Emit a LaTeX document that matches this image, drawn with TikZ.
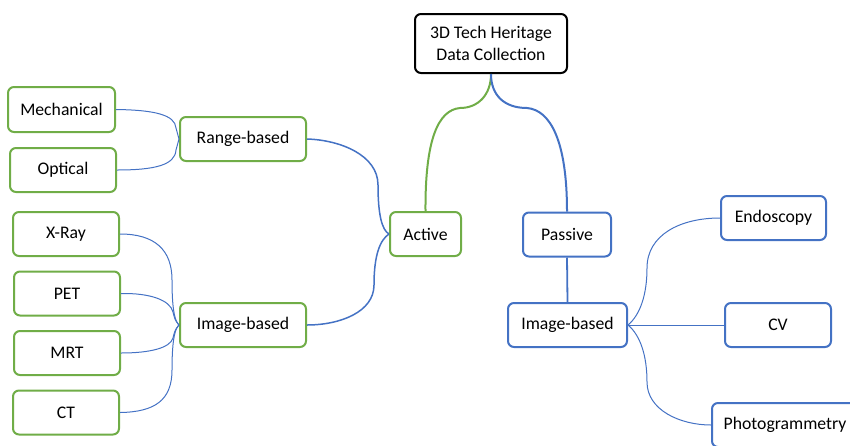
\documentclass[tikz,border=0pt]{standalone}
\usepackage{fontspec}
\setmainfont{Carlito}
\definecolor{mmgreen}{HTML}{70AD47}
\definecolor{mmblue}{HTML}{4472C4}
\begin{document}
\begin{tikzpicture}[x=1pt,y=-1pt,
  box/.style={draw, rounded corners=6pt, line width=2pt, fill=white,
    minimum height=44pt, minimum width=106pt, inner sep=0pt, align=center,
    font=\fontsize{17.7}{21.5}\selectfont},
  gbox/.style={box, draw=mmgreen},
  bbox/.style={box, draw=mmblue},
  rootlink/.style={line width=2pt},
  midlink/.style={draw=mmblue, line width=1.5pt},
  leaflink/.style={draw=mmblue, line width=1pt}]
\useasboundingbox (0,0) rectangle (850,445);
\clip (0,0) rectangle (850,445);
% nodes
\node[box, draw=black, minimum width=152pt, minimum height=59pt] (root) at (491,43.5) {3D Tech Heritage\\Data Collection};
\node[gbox, minimum width=71pt] (active) at (425.5,234) {Active};
\node[bbox, minimum width=88pt] (passive) at (567,234.5) {Passive};
\node[bbox, minimum width=119pt] (rimg) at (567.5,325) {Image-based};
\node[bbox, minimum width=105pt] (endo) at (773.5,218) {Endoscopy};
\node[bbox] (cv) at (778,325) {CV};
\node[bbox, minimum width=146pt] (photo) at (785,425) {Photogrammetry};
\node[gbox, minimum width=126pt] (range) at (243,139) {Range-based};
\node[gbox, minimum width=107pt, minimum height=45pt] (mech) at (61.5,109.5) {Mechanical};
\node[gbox] (opt) at (63,170) {Optical};
\node[gbox, minimum width=126pt] (limg) at (243,325) {Image-based};
\node[gbox] (xray) at (66,234) {X-Ray};
\node[gbox] (pet) at (67,293.5) {PET};
\node[gbox] (mrt) at (67,353) {MRT};
\node[gbox] (ct) at (66,412.5) {CT};
% connectors
\draw[rootlink, mmgreen] (root.south) .. controls (491,95) and (478,108) .. (460,108)
  .. controls (438,110) and (425,140) .. (active.north);
\draw[rootlink, mmblue] (root.south) .. controls (491,95) and (504,108) .. (527,108)
  .. controls (550,110) and (567,140) .. (passive.north);
\draw[mmblue, line width=1.8pt] (passive.south) -- (rimg.north);
\draw[midlink] (active.west) .. controls (382,230) and (378,215) .. (378,185)
  .. controls (378,155) and (340,140) .. (range.east);
\draw[midlink] (active.west) .. controls (380,240) and (374,255) .. (374,285)
  .. controls (374,312) and (340,325) .. (limg.east);
\draw[leaflink] (mech.east) .. controls (155,110) and (175,115) .. (176,128)
  .. controls (177,134) .. (range.west);
\draw[leaflink] (opt.east) .. controls (155,170) and (175,165) .. (176,150)
  .. controls (177,144) .. (range.west);
\draw[leaflink] (xray.east) .. controls (155,234) and (172,250) .. (172,280)
  .. controls (172,315) and (176,322) .. (limg.west);
\draw[leaflink] (pet.east) .. controls (150,293) and (170,300) .. (173,312)
  .. controls (175,320) .. (limg.west);
\draw[leaflink] (mrt.east) .. controls (150,353) and (170,348) .. (173,338)
  .. controls (175,330) .. (limg.west);
\draw[leaflink] (ct.east) .. controls (155,412) and (172,400) .. (172,370)
  .. controls (172,335) and (176,328) .. (limg.west);
\draw[leaflink] (rimg.east) .. controls (640,315) and (647,295) .. (647,268)
  .. controls (647,235) and (680,218) .. (endo.west);
\draw[leaflink] (rimg.east) -- (cv.west);
\draw[leaflink] (rimg.east) .. controls (640,335) and (647,355) .. (647,382)
  .. controls (647,410) and (680,425) .. (photo.west);
\end{tikzpicture}
\end{document}
